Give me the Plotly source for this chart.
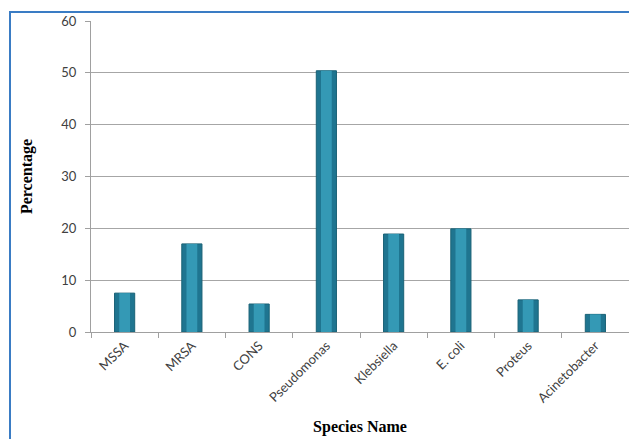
import plotly.graph_objects as go

categories = ["MSSA", "MRSA", "CONS", "Pseudomonas", "Klebsiella", "E. coli", "Proteus", "Acinetobacter"]
percentages = [7.5, 17.0, 5.4, 50.4, 18.9, 19.9, 6.2, 3.4]
y_ticks = [0, 10, 20, 30, 40, 50, 60]

W, H = 629, 439
ml, mr, mt, mb = 91, 0, 21, 107
pw, ph = W - ml - mr, H - mt - mb

fig = go.Figure()
fig.add_trace(go.Bar(
    x=categories, y=percentages, width=0.3,
    marker=dict(color="#1f7590", line=dict(color="#1a6276", width=1)),
    hoverinfo="skip",
))
fig.add_trace(go.Bar(
    x=categories, y=percentages, width=0.16,
    marker=dict(color="#3499b5", line=dict(width=0)),
))

fig.update_layout(
    width=W, height=H,
    barmode="overlay",
    margin=dict(l=ml, r=mr, t=mt, b=mb),
    paper_bgcolor="white", plot_bgcolor="white",
    showlegend=False,
    xaxis=dict(
        type="category", tickangle=-45, tickson="boundaries",
        ticks="outside", ticklen=5, tickcolor="#a0a0a0",
        showline=True, linecolor="#a0a0a0", linewidth=1,
        tickfont=dict(family="Lato", size=13, color="#404040"),
        title=dict(text="<b>Species Name</b>", standoff=16,
                   font=dict(family="Liberation Serif", size=16, color="black")),
        range=[-0.5, 7.5],
    ),
    yaxis=dict(
        range=[0, 60], tickvals=y_ticks, ticks="outside", ticklen=5, tickcolor="#a0a0a0",
        showline=True, linecolor="#a0a0a0", linewidth=1,
        showgrid=True, gridcolor="#a6a6a6", gridwidth=1, zeroline=False,
        tickfont=dict(family="Lato", size=13, color="#404040"),
        ticklabelstandoff=6,
        title=dict(text="<b>Percentage</b>", standoff=24,
                   font=dict(family="Liberation Serif", size=16, color="black")),
    ),
    shapes=[dict(
        type="rect", xref="paper", yref="paper",
        x0=(10 - ml) / pw, x1=1.2, y0=-0.6, y1=(H - mb - 12) / ph,
        line=dict(color="#3a7cc4", width=2), fillcolor="rgba(0,0,0,0)", layer="above",
    )],
)

fig.write_html("out.html")
